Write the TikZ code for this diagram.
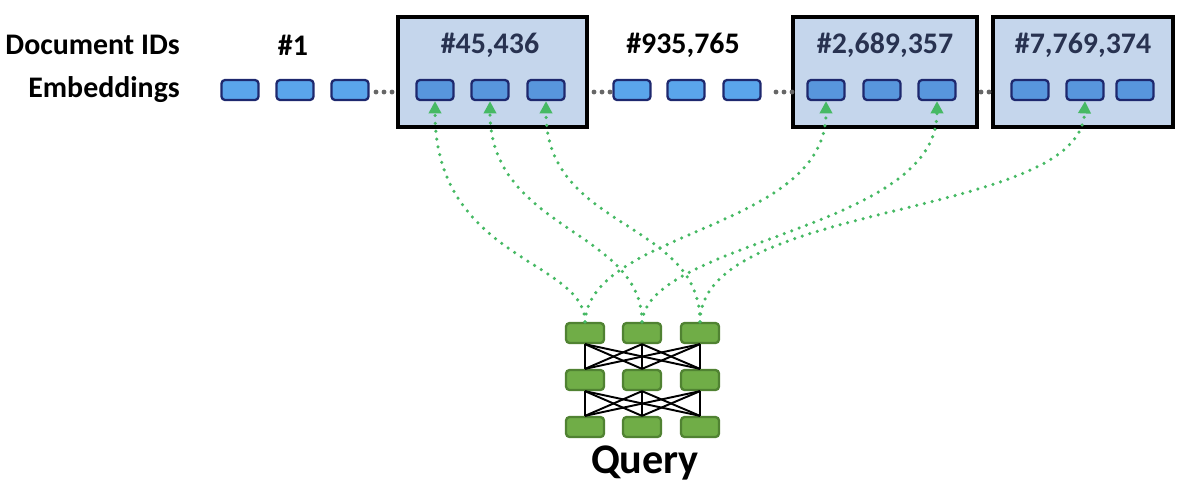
\documentclass[tikz,border=0pt]{standalone}
\usepackage{fontspec}
\setmainfont{Carlito}
\usetikzlibrary{arrows.meta}
\definecolor{hb}{RGB}{197,214,236}
\definecolor{eb}{RGB}{90,165,235}
\definecolor{ebh}{RGB}{88,150,220}
\definecolor{ebd}{RGB}{30,40,110}
\definecolor{qg}{RGB}{112,173,71}
\definecolor{qd}{RGB}{80,130,50}
\definecolor{gl}{RGB}{70,185,100}
\definecolor{tb}{RGB}{40,50,80}
\begin{document}
\begin{tikzpicture}[x=0.02cm,y=-0.02cm,
 emb/.style={draw=ebd,fill=eb,line width=1.3pt,rounded corners=2pt,minimum width=0.74cm,minimum height=0.4cm,inner sep=0pt},
 embh/.style={emb,fill=ebh},
 hbox/.style={draw=black,line width=2pt,fill=hb},
 qb/.style={draw=qd,fill=qg,line width=1.3pt,rounded corners=2pt,minimum width=0.76cm,minimum height=0.4cm,inner sep=0pt},
 lab/.style={font=\bfseries\fontsize{17}{20}\selectfont},
 gd/.style={draw=gl,line width=2pt,dash pattern=on 0pt off 4.5pt,line cap=round,-{Triangle[width=7pt,length=7pt]}},
 nn/.style={line width=1.1pt}]
\useasboundingbox (0,0) rectangle (1199,495);
\path[hbox] (398,17) rectangle (587,127);
\path[hbox] (793,17) rectangle (977,127);
\path[hbox] (993,17) rectangle (1173,127);
\node[lab,anchor=east] (l1) at (186,45) {Document IDs};
\node[lab,anchor=east] (l2) at (186,90) {Embeddings};
\node[lab] (d1) at (293,45) {\#1};
\node[lab,text=tb] (d2) at (490,45) {\#45,436};
\node[lab] (d3) at (683,45) {\#935,765};
\node[lab,text=tb] (d4) at (885,45) {\#2,689,357};
\node[lab,text=tb] (d5) at (1083,45) {\#7,769,374};
\foreach \x/\n in {240/a1,295/a2,350/a3,632/c1,686/c2,742/c3} \node[emb] (\n) at (\x,90) {};
\foreach \x/\n in {435/b1,490/b2,546/b3,826/e1,882/e2,937/e3,1030/f1,1085/f2,1135/f3} \node[embh] (\n) at (\x,90) {};
\foreach \x in {376,384,392,594,602,610,776,784,792,981,989} \fill[black!60] (\x,92) circle (1.4pt);
\foreach \c/\x in {1/585,2/642,3/700}{
 \node[qb] (q1\c) at (\x,333) {};
 \node[qb] (q2\c) at (\x,380) {};
 \node[qb] (q3\c) at (\x,427) {};}
\foreach \i in {1,2,3}\foreach \j in {1,2,3}{
 \draw[nn] (q2\i.north) -- (q1\j.south);
 \draw[nn] (q3\i.north) -- (q2\j.south);}
\node[font=\bfseries\fontsize{24}{28}\selectfont] (q) at (645,463) {Query};
\draw[gd] (q11.north) .. controls (585,260) and (435,260) .. (b1.south);
\draw[gd] (q12.north) .. controls (642,230) and (490,230) .. (b2.south);
\draw[gd] (q13.north) .. controls (700,220) and (546,230) .. (b3.south);
\draw[gd] (q11.north) .. controls (590,230) and (826,230) .. (e1.south);
\draw[gd] (q12.north) .. controls (650,240) and (937,230) .. (e3.south);
\draw[gd] (q13.north) .. controls (700,200) and (1080,220) .. (f2.south);
\end{tikzpicture}
\end{document}
